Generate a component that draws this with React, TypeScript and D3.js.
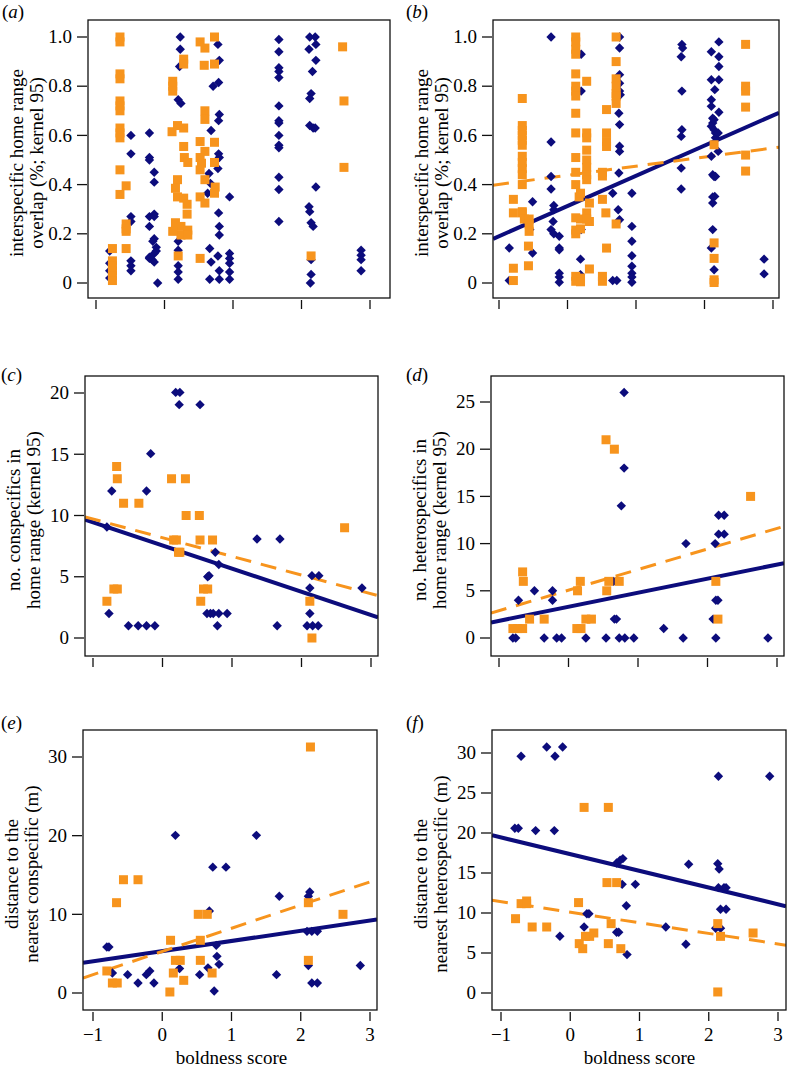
import * as d3 from 'd3';

const NAVY = '#0c0c7c';
const ORANGE = '#f7941d';
const FONT = '"Liberation Serif", "Times New Roman", serif';

// boldness score ticks (shared by every panel)
const boldTicks = [-1, 0, 1, 2, 3];
const boldLabels = ['\u22121', '0', '1', '2', '3'];

// y ticks
const overlapTicks = [0, 0.2, 0.4, 0.6, 0.8, 1.0];
const overlapLabels = ['0', '0.2', '0.4', '0.6', '0.8', '1.0'];
const conTicks = [0, 5, 10, 15, 20];
const hetTicks = [0, 5, 10, 15, 20, 25];
const distConTicks = [0, 10, 20, 30];
const distHetTicks = [0, 5, 10, 15, 20, 25, 30];

// (a) interspecific overlap, species 1 (diamonds) and species 2 (squares)
const aNavy: [number, number][] = [
  [-0.8, 0.13], [-0.8, 0.08], [-0.8, 0.05], [-0.8, 0.02],
  [-0.49, 0.6], [-0.49, 0.525], [-0.49, 0.27], [-0.49, 0.25], [-0.49, 0.09], [-0.49, 0.07], [-0.49, 0.05],
  [-0.22, 0.61], [-0.22, 0.51], [-0.22, 0.5], [-0.22, 0.27], [-0.22, 0.23], [-0.22, 0.105], [-0.22, 0.1],
  [-0.15, 0.45], [-0.15, 0.41], [-0.15, 0.28], [-0.15, 0.27], [-0.15, 0.18], [-0.17, 0.17], [-0.12, 0.145],
  [-0.12, 0.13], [-0.15, 0.12], [-0.18, 0.095], [-0.15, 0.085], [-0.1, 0.0],
  [0.23, 1.0], [0.23, 0.95], [0.22, 0.88], [0.2, 0.745], [0.24, 0.73], [0.2, 0.17], [0.2, 0.133], [0.2, 0.07],
  [0.2, 0.045], [0.2, 0.015],
  [0.78, 0.97], [0.8, 0.905], [0.71, 0.8], [0.79, 0.815], [0.8, 0.685], [0.79, 0.66], [0.68, 0.62], [0.79, 0.525],
  [0.8, 0.51], [0.78, 0.465], [0.65, 0.445], [0.67, 0.405], [0.63, 0.365], [0.79, 0.285], [0.8, 0.23], [0.8, 0.195],
  [0.66, 0.14], [0.78, 0.11], [0.68, 0.085], [0.8, 0.05], [0.66, 0.015], [0.8, 0.015],
  [0.95, 0.35], [0.95, 0.12], [0.95, 0.1], [0.95, 0.08], [0.95, 0.045], [0.95, 0.015],
  [1.67, 0.99], [1.67, 0.94], [1.67, 0.875], [1.67, 0.86], [1.67, 0.835], [1.67, 0.72], [1.67, 0.66], [1.67, 0.65],
  [1.67, 0.6], [1.67, 0.56], [1.67, 0.55], [1.67, 0.43], [1.67, 0.38], [1.67, 0.25],
  [2.12, 1.0], [2.11, 0.95], [2.16, 0.86], [2.14, 0.77], [2.12, 0.75], [2.12, 0.64], [2.17, 0.63], [2.11, 0.31],
  [2.12, 0.29], [2.14, 0.245], [2.17, 0.23], [2.14, 0.095], [2.14, 0.035], [2.13, 0.0],
  [2.2, 1.0], [2.21, 0.97], [2.21, 0.905], [2.2, 0.63], [2.21, 0.39],
  [2.87, 0.133], [2.87, 0.113], [2.87, 0.095], [2.87, 0.05],
];
const aOrange: [number, number][] = [
  [-0.76, 0.14], [-0.76, 0.09], [-0.76, 0.07], [-0.76, 0.05], [-0.76, 0.03], [-0.76, 0.01],
  [-0.65, 1.0], [-0.65, 0.98], [-0.65, 0.85], [-0.65, 0.83], [-0.65, 0.74], [-0.65, 0.72], [-0.65, 0.7],
  [-0.65, 0.63], [-0.65, 0.61], [-0.65, 0.59], [-0.65, 0.46], [-0.65, 0.36],
  [-0.56, 0.395], [-0.56, 0.24], [-0.56, 0.22], [-0.56, 0.21], [-0.56, 0.14],
  [0.12, 0.82], [0.12, 0.8], [0.12, 0.78], [0.11, 0.615], [0.19, 0.64], [0.28, 0.63], [0.28, 0.91], [0.28, 0.89],
  [0.19, 0.42], [0.28, 0.555], [0.29, 0.51], [0.34, 0.49], [0.16, 0.385], [0.19, 0.35], [0.28, 0.345], [0.33, 0.32],
  [0.33, 0.28], [0.16, 0.245], [0.24, 0.23], [0.34, 0.215], [0.24, 0.195], [0.34, 0.195], [0.12, 0.21], [0.2, 0.11],
  [0.52, 0.98], [0.59, 0.955], [0.58, 0.885], [0.59, 0.7], [0.59, 0.665], [0.52, 0.575], [0.59, 0.535], [0.52, 0.51],
  [0.54, 0.487], [0.52, 0.46], [0.59, 0.42], [0.52, 0.35], [0.59, 0.325], [0.52, 0.1],
  [0.73, 1.0], [0.73, 0.89], [0.73, 0.572], [0.73, 0.49], [0.74, 0.39], [0.73, 0.365],
  [2.6, 0.96], [2.62, 0.74], [2.62, 0.47], [2.14, 0.11],
];

// (b)
const bNavy: [number, number][] = [
  [-0.85, 0.01], [-0.85, 0.142],
  [-0.51, 0.33], [-0.51, 0.122], [-0.55, 0.217],
  [-0.24, 1.0], [-0.24, 0.573], [-0.24, 0.433], [-0.24, 0.382], [-0.2, 0.315], [-0.2, 0.298], [-0.21, 0.25],
  [-0.24, 0.217], [-0.2, 0.2],
  [-0.12, 0.19], [-0.12, 0.142], [-0.12, 0.135], [-0.12, 0.04], [-0.12, 0.024], [-0.12, 0.003],
  [0.2, 0.93], [0.2, 0.78], [0.2, 0.217], [0.19, 0.097], [0.19, 0.034],
  [0.66, 0.365], [0.66, 0.01],
  [0.76, 1.0], [0.76, 0.955], [0.76, 0.847], [0.76, 0.812], [0.76, 0.78], [0.77, 0.765], [0.75, 0.69], [0.76, 0.644],
  [0.76, 0.556], [0.76, 0.535], [0.75, 0.447], [0.74, 0.298], [0.76, 0.257], [0.72, 0.01],
  [0.94, 0.365], [0.94, 0.23], [0.94, 0.17], [0.94, 0.111], [0.94, 0.068], [0.94, 0.04], [0.94, 0.024], [0.94, 0.003],
  [1.67, 0.97], [1.68, 0.955], [1.66, 0.92], [1.67, 0.78], [1.67, 0.623], [1.66, 0.596], [1.66, 0.467], [1.66, 0.382],
  [2.1, 0.94], [2.1, 0.826], [2.1, 0.745], [2.1, 0.718], [2.12, 0.67], [2.12, 0.65], [2.1, 0.637], [2.14, 0.623],
  [2.16, 0.59], [2.1, 0.515], [2.12, 0.44], [2.14, 0.433], [2.12, 0.35], [2.12, 0.325], [2.12, 0.217], [2.1, 0.142],
  [2.14, 0.054],
  [2.15, 0.786], [2.14, 0.664], [2.16, 0.61], [2.16, 0.433], [2.15, 0.352],
  [2.21, 0.98], [2.21, 0.92], [2.21, 0.88], [2.21, 0.826], [2.21, 0.694], [2.2, 0.61], [2.2, 0.535],
  [2.87, 0.097], [2.87, 0.037],
];
const bOrange: [number, number][] = [
  [-0.79, 0.34], [-0.79, 0.285], [-0.79, 0.06], [-0.79, 0.01],
  [-0.66, 0.75], [-0.66, 0.64], [-0.66, 0.62], [-0.66, 0.6], [-0.66, 0.58], [-0.66, 0.56], [-0.66, 0.515],
  [-0.66, 0.49], [-0.66, 0.465], [-0.66, 0.44], [-0.66, 0.4], [-0.66, 0.29], [-0.66, 0.285], [-0.63, 0.26],
  [-0.56, 0.26], [-0.56, 0.24], [-0.56, 0.21], [-0.57, 0.15], [-0.57, 0.07],
  [0.12, 1.0], [0.12, 0.98], [0.12, 0.95], [0.12, 0.93], [0.12, 0.85], [0.12, 0.8], [0.12, 0.78], [0.12, 0.76],
  [0.12, 0.69], [0.12, 0.61], [0.12, 0.51], [0.12, 0.45], [0.12, 0.4], [0.17, 0.35], [0.12, 0.265], [0.12, 0.215],
  [0.12, 0.2], [0.19, 0.365], [0.12, 0.027], [0.12, 0.007],
  [0.19, 0.26], [0.19, 0.22], [0.19, 0.02], [0.19, 0.005],
  [0.28, 0.82], [0.28, 0.61], [0.28, 0.59], [0.28, 0.54], [0.28, 0.5], [0.28, 0.47], [0.28, 0.44], [0.28, 0.42],
  [0.28, 0.285], [0.28, 0.26], [0.32, 0.057], [0.32, 0.325], [0.32, 0.25],
  [0.51, 0.45], [0.51, 0.435], [0.51, 0.34], [0.56, 0.285], [0.51, 0.027], [0.51, 0.007],
  [0.57, 0.705], [0.57, 0.61], [0.57, 0.575], [0.57, 0.555], [0.57, 0.142], [0.71, 0.24],
  [0.71, 1.0], [0.71, 0.9], [0.71, 0.83], [0.71, 0.8], [0.71, 0.77], [0.71, 0.76], [0.71, 0.73],
  [2.14, 0.562], [2.14, 0.163], [2.14, 0.1], [2.14, 0.013], [2.14, 0.002],
  [2.6, 0.97], [2.6, 0.8], [2.6, 0.78], [2.6, 0.715], [2.6, 0.52], [2.6, 0.455],
];

// (c) conspecifics in home range
const cNavy: [number, number][] = [
  [-0.8, 9.06], [-0.73, 12], [-0.77, 2], [-0.49, 1], [-0.35, 1], [-0.23, 1], [-0.11, 1], [-0.23, 12], [-0.17, 15.05],
  [0.19, 20.05], [0.25, 20.05], [0.24, 19.05], [0.54, 19.05], [0.65, 5], [0.67, 5.09], [0.76, 7], [0.81, 6],
  [0.64, 2], [0.69, 2], [0.73, 2], [0.81, 2], [0.93, 2], [0.79, 1], [1.36, 8.08], [1.69, 8.08], [1.65, 1],
  [2.12, 4.08], [2.15, 5.09], [2.25, 5.09], [2.12, 2], [2.08, 1], [2.16, 1], [2.24, 1], [2.87, 4.08],
];
const cOrange: [number, number][] = [
  [-0.8, 3], [-0.7, 4], [-0.65, 4], [-0.66, 14], [-0.65, 13], [-0.56, 11], [-0.34, 11], [0.13, 13], [0.33, 13],
  [0.16, 8], [0.2, 8], [0.23, 7], [0.25, 7], [0.34, 10], [0.53, 10], [0.54, 8], [0.72, 8], [0.59, 4], [0.65, 4],
  [0.55, 3], [2.12, 3], [2.15, 0], [2.62, 9],
];

// (d) heterospecifics in home range
const dNavy: [number, number][] = [
  [-0.8, 0], [-0.76, 0], [-0.72, 4], [-0.49, 5], [-0.35, 0], [-0.23, 5], [-0.23, 4], [-0.17, 0], [-0.1, 0],
  [0.25, 0], [0.54, 0], [0.65, 6], [0.66, 2], [0.69, 2], [0.73, 0], [0.76, 14], [0.8, 26], [0.8, 18], [0.81, 0],
  [0.94, 0], [1.37, 1], [1.65, 0], [1.69, 10], [2.11, 10], [2.08, 2], [2.12, 4], [2.15, 4], [2.12, 0],
  [2.16, 13], [2.24, 13], [2.16, 11], [2.24, 11], [2.87, 0],
];
const dOrange: [number, number][] = [
  [-0.8, 1], [-0.73, 1], [-0.66, 1], [-0.66, 7], [-0.65, 6], [-0.56, 2], [-0.35, 2], [0.12, 1], [0.18, 1],
  [0.13, 5], [0.17, 6], [0.25, 2], [0.33, 2], [0.54, 21], [0.66, 20], [0.55, 5], [0.58, 6], [0.73, 6],
  [2.12, 6], [2.15, 2], [2.62, 15],
];

// (e) distance to nearest conspecific
const eNavy: [number, number][] = [
  [-0.8, 5.85], [-0.77, 5.85], [-0.72, 2.54], [-0.5, 2.33], [-0.35, 1.27], [-0.23, 2.33], [-0.18, 2.8],
  [-0.12, 1.27], [0.19, 20.04], [0.25, 3.1], [0.54, 2.33], [0.66, 3.2], [0.68, 10.42], [0.73, 16], [0.75, 0.25],
  [0.78, 6.06], [0.79, 4.66], [0.82, 3.64], [0.92, 16], [1.36, 20.04], [1.65, 2.33], [1.69, 12.3], [2.13, 12.84],
  [2.11, 12.3], [2.09, 7.84], [2.16, 7.84], [2.24, 7.84], [2.11, 3.5], [2.16, 1.27], [2.24, 1.27], [2.86, 3.5],
];
const eOrange: [number, number][] = [
  [-0.8, 2.8], [-0.72, 1.27], [-0.65, 1.27], [-0.56, 14.4], [-0.35, 14.4], [-0.66, 11.48], [0.12, 6.7],
  [0.11, 0.13], [0.16, 2.54], [0.19, 4.15], [0.26, 4.15], [0.31, 1.61], [0.52, 10], [0.65, 10], [0.55, 6.7],
  [0.55, 4.15], [0.72, 2.54], [2.14, 31.27], [2.11, 11.48], [2.11, 4.15], [2.61, 10],
];

// (f) distance to nearest heterospecific
const fNavy: [number, number][] = [
  [-0.8, 20.6], [-0.75, 20.6], [-0.71, 29.6], [-0.5, 20.3], [-0.34, 30.75], [-0.22, 29.6], [-0.23, 20.3],
  [-0.11, 30.75], [-0.15, 7.1], [0.2, 8.25], [0.24, 9.9], [0.27, 9.9], [0.67, 16.25], [0.72, 16.6], [0.76, 16.8],
  [0.75, 13.58], [0.67, 7.6], [0.7, 7.6], [0.82, 4.8], [0.81, 10.9], [0.94, 13.58], [1.38, 8.25], [1.67, 6.1],
  [1.71, 16.1], [2.14, 27.1], [2.13, 16.17], [2.15, 15.5], [2.14, 13.17], [2.22, 13.17], [2.25, 13.17],
  [2.17, 10.46], [2.25, 10.46], [2.1, 8.1], [2.17, 8.1], [2.88, 27.1],
];
const fOrange: [number, number][] = [
  [-0.79, 9.29], [-0.71, 11.17], [-0.63, 11.5], [-0.63, 11.17], [-0.55, 8.25], [-0.34, 8.25], [0.12, 11.3],
  [0.2, 23.2], [0.55, 23.2], [0.13, 6.17], [0.18, 5.54], [0.22, 7.08], [0.28, 7.08], [0.34, 7.5], [0.53, 13.8],
  [0.67, 13.8], [0.59, 8.67], [0.55, 6.17], [0.73, 5.54], [2.13, 8.67], [2.17, 7.08], [2.13, 0.13], [2.64, 7.5],
];

// fitted lines: [intercept, slope]
const bFit = { navy: [0.313, 0.1227], orange: [0.438, 0.037] };
const cFit = { navy: [7.56, -1.893], orange: [8.19, -1.525] };
const dFit = { navy: [3.31, 1.49], orange: [5.07, 2.18] };
const eFit = { navy: [5.32, 1.294], orange: [5.28, 2.95] };
const fFit = { navy: [17.36, -2.09], orange: [10.1, -1.325] };

type Fit = { navy: number[]; orange: number[] };

type PanelProps = {
  id: string;
  letter: string;
  letterX: number;
  letterY: number;
  frame: [number, number, number, number]; // left, top, right, bottom
  xRange: [number, number];
  yDomain: [number, number];
  yRange: [number, number];
  yTicks: number[];
  yLabels?: string[];
  ylab: [string, string];
  navy: [number, number][];
  orange: [number, number][];
  fit?: Fit;
  showX?: boolean;
};

function Panel(p: PanelProps) {
  const [L, T, R, B] = p.frame;
  const x = d3.scaleLinear().domain([-1, 3]).range(p.xRange);
  const y = d3.scaleLinear().domain(p.yDomain).range(p.yRange);
  const x0 = x.invert(L);
  const x1 = x.invert(R);
  const line = d3.line<number>().x(v => x(v)).y((v, i) => 0);
  const fitPath = (ab: number[]) =>
    d3.line<number>().x(v => x(v)).y(v => y(ab[0] + ab[1] * v))([x0, x1]) || '';
  void line;
  const cx = (L + R) / 2;
  const cy = (T + B) / 2 + 4;
  const s = 4.7;
  return (
    <g>
      <defs>
        <clipPath id={`clip-${p.id}`}>
          <rect x={L} y={T} width={R - L} height={B - T} />
        </clipPath>
      </defs>
      <text x={p.letterX} y={p.letterY} fontSize={19} fontFamily={FONT}>
        (<tspan fontStyle="italic">{p.letter}</tspan>)
      </text>
      {p.fit && (
        <g clipPath={`url(#clip-${p.id})`}>
          <path d={fitPath(p.fit.navy)} stroke={NAVY} strokeWidth={4} fill="none" />
          <path d={fitPath(p.fit.orange)} stroke={ORANGE} strokeWidth={3} strokeDasharray="16 10" fill="none" />
        </g>
      )}
      <g clipPath={`url(#clip-${p.id})`}>
        {p.navy.map((d, i) => (
          <path key={`n${i}`} transform={`translate(${x(d[0])},${y(d[1])})`}
            d={`M0,${-s}L${s},0L0,${s}L${-s},0Z`} fill={NAVY} />
        ))}
        {p.orange.map((d, i) => (
          <rect key={`o${i}`} x={x(d[0]) - 4.5} y={y(d[1]) - 4.5} width={9} height={9} fill={ORANGE} />
        ))}
      </g>
      <rect x={L} y={T} width={R - L} height={B - T} fill="none" stroke="#111" strokeWidth={1.3} />
      {boldTicks.map((t, i) => (
        <g key={`xt${i}`}>
          <line x1={x(t)} x2={x(t)} y1={B + 2} y2={B + 11} stroke="#111" strokeWidth={1.3} />
          {p.showX && (
            <text x={x(t)} y={B + 31} fontSize={19} fontFamily={FONT} textAnchor="middle">{boldLabels[i]}</text>
          )}
        </g>
      ))}
      {p.yTicks.map((t, i) => (
        <g key={`yt${i}`}>
          <line x1={L - 11} x2={L - 1} y1={y(t)} y2={y(t)} stroke="#111" strokeWidth={1.3} />
          <text x={L - 16} y={y(t)} dy="0.33em" fontSize={19} fontFamily={FONT} textAnchor="end">
            {p.yLabels ? p.yLabels[i] : String(t)}
          </text>
        </g>
      ))}
      <text transform={`translate(${L - 65},${cy}) rotate(-90)`} fontSize={19} fontFamily={FONT} textAnchor="middle">
        {p.ylab[0]}
      </text>
      <text transform={`translate(${L - 45},${cy}) rotate(-90)`} fontSize={19} fontFamily={FONT} textAnchor="middle">
        {p.ylab[1]}
      </text>
      {p.showX && (
        <text x={x(1)} y={B + 54} fontSize={19} fontFamily={FONT} textAnchor="middle">boldness score</text>
      )}
      {void cx}
    </g>
  );
}

export default function App() {
  return (
    <svg width={787} height={1067} style={{ position: 'absolute', left: 0, top: 0, background: '#fff' }}>
      <rect width={787} height={1067} fill="#fff" />
      <Panel id="a" letter="a" letterX={2} letterY={18} frame={[88, 20, 390, 298]} xRange={[96, 370]}
        yDomain={[0, 1]} yRange={[283, 37]} yTicks={overlapTicks} yLabels={overlapLabels}
        ylab={['interspecific home range', 'overlap (%; kernel 95)']} navy={aNavy} orange={aOrange} />
      <Panel id="b" letter="b" letterX={406} letterY={18} frame={[493, 20, 779, 298]} xRange={[499, 773]}
        yDomain={[0, 1]} yRange={[283, 37]} yTicks={overlapTicks} yLabels={overlapLabels}
        ylab={['interspecific home range', 'overlap (%; kernel 95)']} navy={bNavy} orange={bOrange} fit={bFit} />
      <Panel id="c" letter="c" letterX={1} letterY={381} frame={[85, 376, 378, 656]} xRange={[93, 371]}
        yDomain={[0, 20]} yRange={[638, 393]} yTicks={conTicks}
        ylab={['no. conspecifics in', 'home range (kernel 95)']} navy={cNavy} orange={cOrange} fit={cFit} />
      <Panel id="d" letter="d" letterX={406} letterY={381} frame={[491, 376, 784, 656]} xRange={[499, 777]}
        yDomain={[0, 25]} yRange={[638, 402]} yTicks={hetTicks}
        ylab={['no. heterospecifics in', 'home range (kernel 95)']} navy={dNavy} orange={dOrange} fit={dFit} />
      <Panel id="e" letter="e" letterX={1} letterY={729} frame={[83, 730, 377, 1010]} xRange={[93, 370]}
        yDomain={[0, 30]} yRange={[993, 757]} yTicks={distConTicks}
        ylab={['distance to the', 'nearest conspecific (m)']} navy={eNavy} orange={eOrange} fit={eFit} showX />
      <Panel id="f" letter="f" letterX={406} letterY={729} frame={[492, 730, 786, 1010]} xRange={[501, 778]}
        yDomain={[0, 30]} yRange={[993, 753]} yTicks={distHetTicks}
        ylab={['distance to the', 'nearest heterospecific (m)']} navy={fNavy} orange={fOrange} fit={fFit} showX />
    </svg>
  );
}
